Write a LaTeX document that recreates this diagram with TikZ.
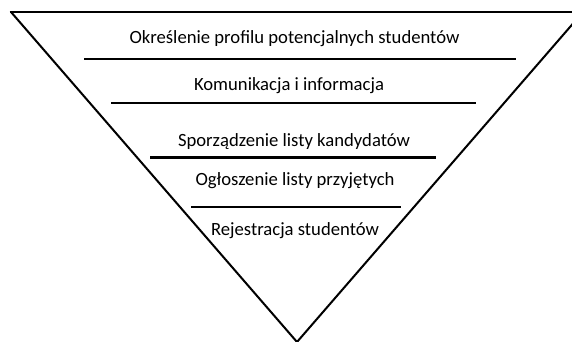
\documentclass[tikz,border=0pt]{standalone}
\usepackage{fontspec}
\setmainfont{Carlito}
\usetikzlibrary{positioning}

\tikzset{
	stage/.style={anchor=base, inner sep=0pt, font=\fontsize{14}{17}\selectfont},
	divider/.style={line width=2.2pt},
	funnel/.style={line width=1.5pt, line join=miter}
}

\begin{document}
\begin{tikzpicture}[x=0.75pt,y=-0.75pt]
	\useasboundingbox (0,0) rectangle (572,342);
	\clip (0,0) rectangle (572,342);
	% Funnel %
	\draw [funnel] (11,12) -- (297,342) -- (583,12);
	\draw [divider] (9.5,12) -- (585,12);
	% Dividers %
	\draw [divider] (84,59) -- (516,59);
	\draw [divider] (111,103) -- (476,103);
	\draw [divider] (150,157.5) -- (436,157.5);
	\draw [divider] (191,207) -- (401,207);
	% Stages %
	\node [stage] (profil) at (294.5,43.3) {Określenie profilu potencjalnych studentów};
	\node [stage] (komunikacja) at (289,91) {Komunikacja i informacja};
	\node [stage] (kandydaci) at (294,147) {Sporządzenie listy kandydatów};
	\node [stage] (przyjeci) at (295,185.7) {Ogłoszenie listy przyjętych};
	\node [stage] (rejestracja) at (295,235.7) {Rejestracja studentów};
\end{tikzpicture}
\end{document}
